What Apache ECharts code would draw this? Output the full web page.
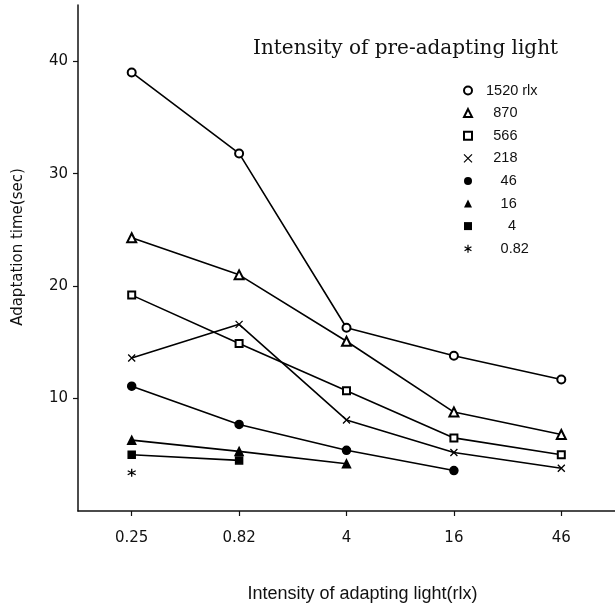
<!DOCTYPE html>
<html>
<head>
<meta charset="utf-8">
<script src="https://cdn.jsdelivr.net/npm/echarts@6/dist/echarts.min.js"></script>
<style>
html,body{margin:0;padding:0;background:#fff;}
#chart{width:615px;height:608px;}
</style>
</head>
<body>
<div id="chart"></div>
<script>
// Categories (intensity of adapting light, rlx)
const categories = ['0.25', '0.82', '4', '16', '46'];
// Series: intensity of pre-adapting light (rlx)
const seriesNames = ['1520', '870', '566', '218', '46', '16', '4', '0.82'];
const s1520 = [39.0, 31.8, 16.3, 13.8, 11.7];
const s870  = [24.3, 21.0, 15.1, 8.8, 6.8];
const s566  = [19.2, 14.9, 10.7, 6.5, 5.0];
const s218  = [13.6, 16.6, 8.1, 5.2, 3.8];
const s46   = [11.1, 7.7, 5.4, 3.6, null];
const s16   = [6.3, 5.3, 4.2, null, null];
const s4    = [5.0, 4.5, null, null, null];
const s082  = [3.4, null, null, null, null];
const seriesValues = [s1520, s870, s566, s218, s46, s16, s4, s082];
const yTicks = [10, 20, 30, 40];
// legend text indent (in digit widths), as in the printed key
const legendIndent = [0, 1, 1, 1, 2, 2, 3, 2];

const X_PATH = 'path://M0,0L10,10M10,0L0,10';
const AST_PATH = 'path://M5,0L5,10M0.7,2.5L9.3,7.5M0.7,7.5L9.3,2.5';
const symbols = ['emptyCircle', 'emptyTriangle', 'emptyRect', X_PATH, 'circle', 'triangle', 'rect', AST_PATH];
const sizes = [8, 9, 7, 7, 8, 8, 7, 8];

const chart = echarts.init(document.getElementById('chart'), null, {renderer: 'canvas'});

const series = seriesNames.map((n, i) => ({
  name: n,
  type: 'line',
  data: seriesValues[i],
  symbol: symbols[i],
  symbolSize: sizes[i],
  showAllSymbol: true,
  connectNulls: false,
  lineStyle: {color: '#000', width: 1.6},
  itemStyle: {color: '#000', borderColor: '#000', borderWidth: (i === 3 || i === 7) ? 1.3 : 1.5},
  emphasis: {disabled: true},
  z: 3
}));

const legendData = seriesNames.map((n, i) => ({
  name: n,
  icon: symbols[i],
  itemStyle: {
    color: '#000',
    borderColor: '#000',
    borderWidth: (i === 3 || i === 7 || i < 3) ? 1.2 : 0
  }
}));

const option = {
  backgroundColor: '#fff',
  animation: false,
  title: {
    text: 'Intensity of pre-adapting light',
    left: 248,
    top: 34,
    textStyle: {fontFamily: 'DejaVu Serif', fontSize: 20, fontWeight: 'normal', color: '#111'}
  },
  legend: {
    orient: 'vertical',
    left: 458,
    top: 78,
    itemWidth: 8,
    itemHeight: 8,
    itemGap: 7.6,
    selectedMode: false,
    data: legendData,
    formatter: function (name) {
      const k = legendIndent[seriesNames.indexOf(name)];
      let s = '{p' + k + '| }{d|' + name + '}';
      if (name === '1520') s += '{d| rlx}';
      return s;
    },
    textStyle: {
      fontFamily: 'Liberation Sans',
      fontSize: 14,
      color: '#111',
      rich: {
        p0: {width: 9, fontSize: 14, lineHeight: 16},
        p1: {width: 16.3, fontSize: 14, lineHeight: 16},
        p2: {width: 23.6, fontSize: 14, lineHeight: 16},
        p3: {width: 31, fontSize: 14, lineHeight: 16},
        d: {fontFamily: 'Liberation Sans', fontSize: 14.5, lineHeight: 16, color: '#111'}
      }
    }
  },
  grid: {left: 78, top: 5, width: 543, height: 508, containLabel: false},
  xAxis: {
    type: 'category',
    data: categories,
    boundaryGap: true,
    name: 'Intensity of adapting light(rlx)',
    nameLocation: 'middle',
    nameGap: 74,
    nameTextStyle: {fontFamily: 'Liberation Sans', fontSize: 18, color: '#111', padding: [0, 0, 0, 32]},
    axisLine: {lineStyle: {color: '#111', width: 1.5}},
    axisTick: {show: true, alignWithLabel: true, length: 5, lineStyle: {color: '#111', width: 1.2}},
    axisLabel: {margin: 20, fontFamily: 'DejaVu Sans', fontSize: 15, color: '#111'},
    splitLine: {show: false}
  },
  yAxis: {
    type: 'value',
    min: 0,
    max: 45,
    interval: 10,
    name: 'Adaptation time(sec)',
    nameLocation: 'middle',
    nameGap: 52,
    nameTextStyle: {fontFamily: 'DejaVu Sans', fontSize: 15, color: '#111', padding: [0, 0, 0, 22]},
    axisLine: {show: true, lineStyle: {color: '#111', width: 1.5}},
    axisTick: {show: true, length: 5, lineStyle: {color: '#111', width: 1.2}},
    axisLabel: {
      margin: 10,
      fontFamily: 'DejaVu Sans',
      fontSize: 15,
      color: '#111',
      showMinLabel: false,
      showMaxLabel: false,
      formatter: function (v) { return yTicks.indexOf(v) >= 0 ? String(v) : ''; }
    },
    splitLine: {show: false}
  },
  series: series
};
chart.setOption(option);
</script>
</body>
</html>
